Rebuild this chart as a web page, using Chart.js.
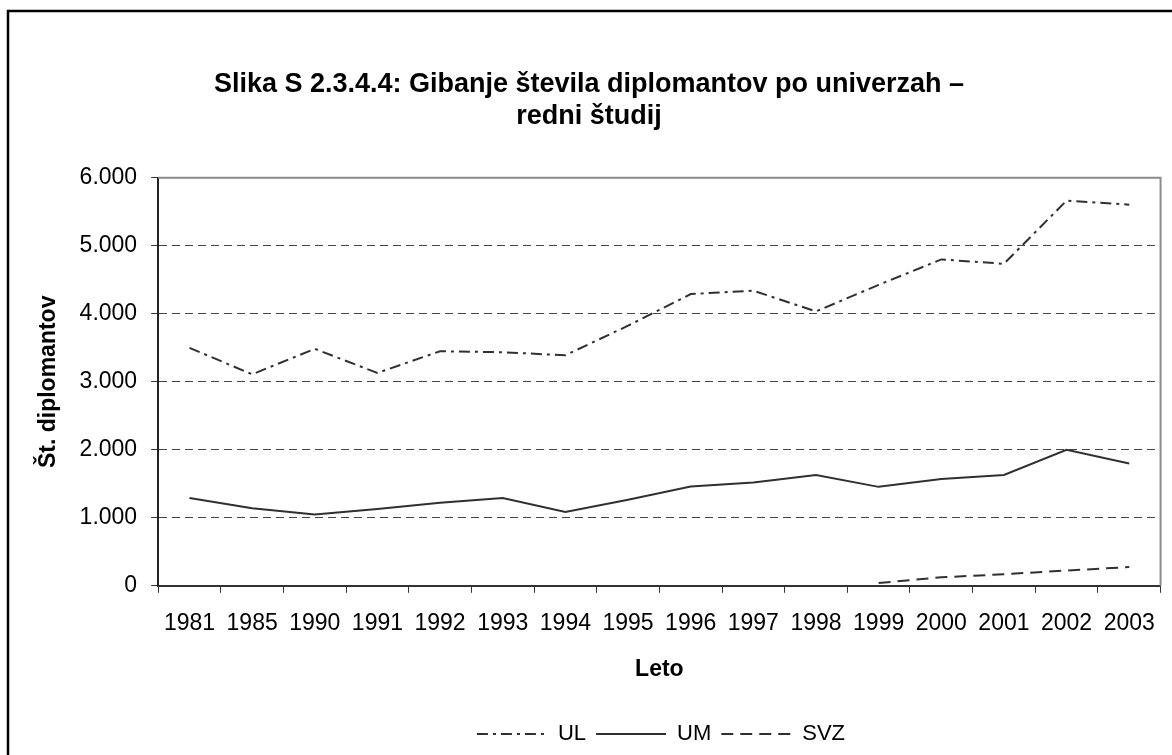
<!DOCTYPE html>
<html><head><meta charset="utf-8">
<script src="https://cdn.jsdelivr.net/npm/chart.js@4/dist/chart.umd.min.js"></script>
<style>html,body{margin:0;padding:0;background:#fff}#wrap{width:1172px;height:755px;position:relative}</style>
</head><body><div id="wrap"><canvas id="c" width="1172" height="755"></canvas></div>
<script>
const categories = ['1981','1985','1990','1991','1992','1993','1994','1995','1996','1997','1998','1999','2000','2001','2002','2003'];
const ulValues  = [3500,3110,3485,3130,3450,3435,3390,3825,4290,4340,4035,4425,4800,4735,5665,5605];
const umValues  = [1290,1140,1050,1130,1220,1290,1085,1265,1460,1520,1630,1455,1570,1630,2000,1800];
const svzValues = [null,null,null,null,null,null,null,null,null,null,null,40,125,170,225,275];
const seriesNames = ['UL','UM','SVZ'];
const yTickValues = [0,1000,2000,3000,4000,5000,6000];
const titleLines = ['Slika S 2.3.4.4: Gibanje števila diplomantov po univerzah –','redni študij'];
const xTitle = 'Leto';
const yTitle = 'Št. diplomantov';

const FONT = "'Liberation Sans', Arial, sans-serif";
const LINE = '#303030';
const LEGEND_SHIFT = 72;

function fmt(v){ return String(v).replace(/\B(?=(\d{3})+(?!\d))/g,'.'); }

const framePlugin = {
  id:'frame',
  afterLayout(chart){
    if (chart.legend){ chart.legend.left += LEGEND_SHIFT; chart.legend.right += LEGEND_SHIFT; }
  },
  beforeDatasetsDraw(chart){
    const {ctx, chartArea:a} = chart;
    ctx.save();
    ctx.strokeStyle = '#8c8c8c';
    ctx.lineWidth = 2;
    ctx.beginPath();
    ctx.moveTo(a.left, a.top); ctx.lineTo(a.right, a.top); ctx.lineTo(a.right, a.bottom);
    ctx.stroke();
    ctx.restore();
  },
  afterDraw(chart){
    const ctx = chart.ctx;
    ctx.save();
    ctx.strokeStyle = '#000';
    ctx.lineWidth = 2.5;
    ctx.strokeRect(8, 11, 1300, 900);
    ctx.restore();
  }
};

new Chart(document.getElementById('c'), {
  type:'line',
  data:{
    labels: categories,
    datasets:[
      {label:seriesNames[0], data:ulValues, borderColor:LINE, backgroundColor:LINE, borderWidth:2, borderDash:[11,5,3,5], pointRadius:0, tension:0, fill:false},
      {label:seriesNames[1], data:umValues, borderColor:LINE, backgroundColor:LINE, borderWidth:2, borderDash:[], pointRadius:0, tension:0, fill:false},
      {label:seriesNames[2], data:svzValues, borderColor:LINE, backgroundColor:LINE, borderWidth:2, borderDash:[12,7], pointRadius:0, tension:0, fill:false}
    ]
  },
  options:{
    responsive:false,
    devicePixelRatio:1,
    animation:false,
    layout:{padding:{left:12,right:6,top:0,bottom:0}},
    plugins:{
      title:{display:true, text:titleLines, color:'#000', font:{family:FONT,size:27,weight:'bold'}, lineHeight:1.35, padding:{top:68,bottom:45}},
      legend:{position:'bottom', labels:{
        usePointStyle:true, pointStyle:'line', pointStyleWidth:70, color:'#000', font:{family:FONT,size:22}, padding:10,
        generateLabels(chart){
          return chart.data.datasets.map((ds,i)=>({
            text: ds.label, datasetIndex:i, fillStyle:ds.borderColor, strokeStyle:ds.borderColor,
            lineWidth:2, lineDash:ds.borderDash, pointStyle:'line', hidden:false, fontColor:'#000'
          }));
        }
      }},
      tooltip:{enabled:false}
    },
    scales:{
      x:{
        offset:true,
        grid:{offset:true, drawOnChartArea:false, drawTicks:true, tickLength:7, color:'#333', tickColor:'#333'},
        border:{display:true, color:'#333', width:2},
        ticks:{color:'#000', font:{family:FONT,size:23}, padding:17, maxRotation:0, autoSkip:false},
        title:{display:true, text:xTitle, color:'#000', font:{family:FONT,size:23,weight:'bold'}, padding:{top:1,bottom:30}}
      },
      y:{
        min:0, max:6000,
        afterBuildTicks(scale){ scale.ticks = yTickValues.map(v=>({value:v})); },
        grid:{color:'#444', lineWidth:1, drawTicks:true, tickLength:7, tickColor:'#333'},
        border:{display:true, color:'#222', width:2, dash:[8,5]},
        ticks:{color:'#000', font:{family:FONT,size:23}, padding:14, callback:(v)=>fmt(v)},
        title:{display:true, text:yTitle, color:'#000', font:{family:FONT,size:23,weight:'bold'}, padding:{top:23,bottom:3}}
      }
    }
  },
  plugins:[framePlugin]
});
</script></body></html>
